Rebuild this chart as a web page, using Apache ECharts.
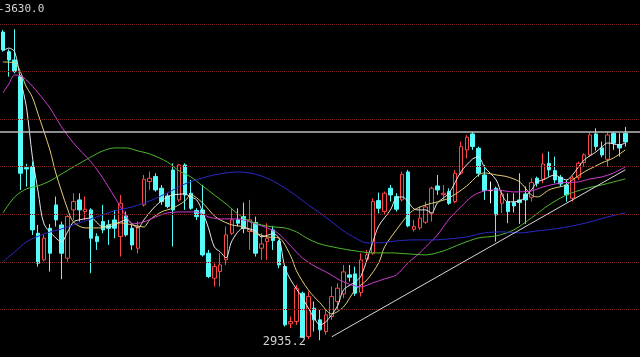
<!DOCTYPE html>
<html><head><meta charset="utf-8">
<script src="https://cdn.jsdelivr.net/npm/echarts@6/dist/echarts.min.js"></script>
<style>html,body{margin:0;padding:0;background:#000}#c{width:640px;height:357px}</style>
</head><body><div id="c"></div>
<script>
// ---- data ----
const categories = Array.from({length: 109}, (_, i) => 'K' + (i + 1));
// [open, close, lowest, highest]
const candles = [
[3582.8,3545.0,3541.5,3587.0],[3541.5,3524,3489,3546.4],[3524,3499.5,3496,3588.4],[3489,3286,3251,3492.5],
[3297.9,3295.1,3258,3305.6],[3300,3167,3156.5,3310.5],[3160,3097,3090,3177.5],[3104,3149.5,3100.5,3156.5],
[3170.5,3118,3079.5,3179.6],[3219.5,3188,3174,3237],[3177.5,3118,3063.4,3184.5],[3107.5,3195,3100.5,3198.5],
[3209,3226.5,3188,3244],[3230,3209,3184.5,3244],[3205.5,3210.4,3188,3237],[3209,3149.5,3076,3212.5],
[3153,3142.5,3125,3160],[3184.5,3167,3160,3219.5],[3177.5,3170.5,3135.5,3188],[3188,3170.5,3149.5,3209],
[3153,3223,3111,3240.5],[3196.4,3156.5,3153,3205.5],[3170.5,3135.5,3125,3181],[3128.5,3174,3118,3184.5],
[3219.5,3273.4,3216,3282.5],[3268.5,3275.5,3251,3289.5],[3279,3251,3247.5,3286],[3254.5,3226.5,3219.5,3261.5],
[3238.4,3216,3212.5,3244],[3293,3209,3132,3307],[3230,3303.5,3226.5,3305.6],[3303.5,3240.5,3209,3307],
[3244,3212.5,3209,3272],[3207.6,3195,3188,3212.5],[3209,3114.5,3111,3261.5],[3118,3069,3065.5,3125],
[3065.5,3090,3048,3097],[3079.5,3093.5,3048,3118],[3104,3156.5,3093.5,3174],[3160,3188,3156.5,3212.5],
[3188,3181,3174,3212.5],[3195,3170.5,3160,3224.4],[3163.5,3188,3125,3230],[3182.4,3118,3111,3195],
[3128.5,3137.6,3104,3160],[3142.5,3149.5,3104,3181],[3167,3144.6,3125,3175.4],[3142.5,3093.5,3086.5,3146],
[3090,2967.5,2964,3093.5],[2969.6,2974.5,2960.5,2985],[2974.5,3044.5,2967.5,3051.5],[3034,2941.6,2939.5,3037.5],
[2943,3027,2937.4,3037.5],[3002.5,2978,2953.5,3016.5],[2978,2957,2935.2,2999],[2953.5,2988.5,2946.5,2999],
[2985,3027,2978,3048],[3016.5,3044.5,2999,3055],[3032.6,3078.8,3023.5,3093.5],[3072.5,3067.6,3058.5,3093.5],
[3074.6,3034,3028.4,3090],[3035.4,3104,3027,3118],[3105.4,3114.5,3097,3125],[3118,3226.5,3114.5,3233.5],
[3228.6,3212.5,3202,3245.4],[3205.5,3244,3198.5,3247.5],[3254.5,3240.5,3226.5,3261.5],[3237,3210.4,3205.5,3244],
[3230,3283.9,3226.5,3289.5],[3288.8,3175.4,3172.6,3293],[3168.4,3174,3163.5,3188],[3171.2,3191.5,3167,3216],
[3183.1,3215.3,3179.6,3226.5],[3202,3254.5,3184.5,3258],[3259.4,3251,3240.5,3282.5],[3241.2,3244,3230,3261.5],
[3247.5,3223,3219.5,3254.5],[3226.5,3286,3223,3293],[3286,3342,3282.5,3352.5],[3335,3361.6,3317.5,3366.5],
[3368.6,3342,3335,3372.8],[3338.5,3286,3279,3342],[3282.5,3249.6,3230,3303.5],[3249.6,3249.6,3223,3268.5],
[3254.5,3198.5,3142.5,3258],[3223,3242.6,3202,3251],[3226.5,3205.5,3181,3244],[3224.4,3217.4,3203.4,3244],
[3230,3224.4,3179.6,3286],[3242.6,3230,3179.6,3258],[3235.6,3266.4,3226.5,3275.5],[3275.5,3265,3258,3279],
[3273.4,3305.6,3265,3328],[3307,3293,3279,3331.5],[3291.6,3272,3265,3321],[3277.6,3263.6,3258,3282.5],
[3261.5,3240.5,3226.5,3272],[3233.5,3275.5,3226.5,3280.4],[3277.6,3307,3272,3310.5],[3308.4,3324.5,3300,3328],
[3324.5,3366.5,3321,3371.4],[3368.6,3342,3333.6,3380.5],[3339.2,3324.5,3319.6,3352.5],[3315.4,3366.5,3300,3373.5],
[3370,3349,3335,3373.5],[3346.2,3339.2,3321,3370],[3370,3351.8,3342,3383.3]
];
// moving averages read at sample candles: [candle index, value]
const ma5 = [[0,3543],[1,3549],[2,3541],[3,3482],[4,3425],[5,3322],[6,3247],[7,3179.6],[9,3150],[10,3141.8],[11,3162.8],[12,3183.8],[13,3188],[15,3192],[17,3173.3],[18,3173.3],[20,3183.8],[21,3188],[23,3171.2],[24,3188],[26,3217.4],[28,3236.3],[29,3240.5],[31,3242.6],[32,3236.3],[33,3230],[34,3204.8],[35,3171.2],[36,3131.3],[37,3120.8],[38,3108.2],[39,3143.9],[41,3171.2],[43,3164.9],[44,3152.3],[46,3158.6],[47,3150.2],[48,3089.3],[49,3062],[51,3024.2],[53,2982.2],[54,2967.5],[55,2973.8],[57,3007.4],[58,3041],[60,3057.8],[61,3070.4],[63,3141.8],[64,3175.4],[66,3209],[67,3234.2],[68,3236.3],[70,3211.1],[71,3209],[72,3209],[73,3202.7],[74,3223.7],[76,3244.7],[78,3288.8],[80,3316.1],[81,3320.3],[82,3299.3],[84,3272],[85,3240.5],[86,3225.8],[88,3227.9],[90,3251],[91,3267.8],[92,3272],[94,3282.5],[95,3276.2],[96,3272],[97,3282.5],[99,3314],[101,3330.8],[102,3341.3],[103,3349.7],[105,3345.5],[106,3349.7]];
const ma10 = [[0,3519.8],[2,3517.7],[4,3467.3],[5,3446],[6,3410],[8,3335],[9,3286.7],[11,3211.1],[12,3183.8],[14,3171.2],[17,3171.2],[18,3177.5],[20,3181.7],[22,3177.5],[24,3173.3],[25,3188],[27,3204.8],[29,3213.2],[31,3227.9],[32,3240.5],[34,3223.7],[36,3196.4],[37,3188],[39,3177.5],[41,3173.3],[43,3160.7],[45,3152.3],[47,3150.2],[49,3112.4],[50,3080.9],[52,3041],[54,3013.7],[56,2990.6],[58,3005.3],[60,3041],[62,3062],[64,3097.7],[65,3131.3],[67,3167],[69,3198.5],[70,3209],[72,3219.5],[74,3225.8],[76,3234.2],[79,3259.4],[81,3282.5],[82,3286.7],[84,3282.5],[86,3278.3],[88,3267.8],[90,3240.5],[91,3236.3],[93,3251],[94,3255.2],[96,3261.5],[97,3272],[99,3288.8],[101,3301.4],[102,3307.7],[104,3318.2],[106,3335]];
const ma20 = [[0,3454.7],[1,3473.6],[2,3492.5],[3,3490.4],[4,3482],[6,3454.7],[8,3423.2],[10,3383.3],[12,3349.7],[15,3309.8],[17,3276.2],[19,3236.3],[21,3196.4],[22,3179.6],[24,3183.8],[26,3194.3],[28,3202.7],[31,3204.8],[33,3204.8],[35,3194.3],[37,3190.1],[40,3190.1],[42,3183.8],[45,3171.2],[47,3158.6],[49,3133.4],[51,3108.2],[53,3091.4],[55,3078.8],[58,3057.8],[61,3047.3],[63,3055.7],[65,3064.1],[67,3072.5],[69,3097.7],[71,3118.7],[72,3131.3],[74,3156.5],[76,3190.1],[78,3215.3],[80,3238.4],[82,3248.9],[84,3251],[87,3246.8],[90,3248.9],[92,3257.3],[95,3265.7],[98,3267.8],[100,3274.1],[102,3278.3],[104,3286.7],[106,3299.3]];
const ma60 = [[0,3202.7],[2,3236.3],[4,3253.1],[6,3259.4],[8,3269.9],[10,3284.6],[12,3299.3],[15,3320.3],[17,3332.9],[19,3339.2],[21,3339.2],[23,3332.9],[25,3326.6],[28,3309.8],[30,3290.9],[32,3278.3],[34,3259.4],[36,3240.5],[38,3221.6],[40,3200.6],[42,3185.9],[44,3177.5],[46,3173.3],[48,3171.2],[50,3162.8],[52,3148.1],[54,3137.6],[57,3129.2],[60,3122.9],[63,3118.7],[66,3118.7],[69,3116.6],[72,3114.5],[75,3122.9],[78,3137.6],[81,3150.2],[84,3154.4],[87,3167],[90,3192.2],[93,3219.5],[96,3240.5],[99,3253.1],[102,3261.5],[104,3267.8],[106,3274.1]];
const ma120 = [[0,3099.8],[2,3120.8],[4,3141.8],[7,3158.6],[10,3169.1],[13,3181.7],[16,3194.3],[19,3206.9],[22,3215.3],[25,3227.9],[28,3244.7],[31,3263.6],[34,3276.2],[36,3282.5],[38,3286.7],[40,3288.8],[42,3286.7],[44,3280.4],[46,3269.9],[48,3255.2],[50,3238.4],[52,3219.5],[54,3202.7],[56,3183.8],[58,3164.9],[60,3150.2],[62,3139.7],[64,3139.7],[67,3143.9],[70,3146],[73,3146],[76,3148.1],[79,3152.3],[82,3160.7],[85,3162.8],[88,3160.7],[91,3164.9],[94,3169.1],[97,3175.4],[100,3183.8],[103,3194.3],[106,3202.7]];
const gridLevels = [3000, 3100, 3200, 3300, 3400, 3500, 3600];
const refLevel = 3373;
const topLabelValue = 3630.0;
const trendStart = [56, 2942.4];
const trendEnd = [106, 3293.3];

const chart = echarts.init(document.getElementById('c'), null, {renderer: 'canvas'});
const maLine = (name, data, color) => ({
  name, type: 'line', data, showSymbol: false, symbol: 'none', smooth: 0.3,
  lineStyle: {width: 1, color}, z: 3, silent: true
});
chart.setOption({
  animation: false,
  backgroundColor: '#000',
  grid: {left: 0, right: 0, top: 0, bottom: 0},
  xAxis: {type: 'category', data: categories, boundaryGap: true, show: false},
  yAxis: {
    type: 'value', min: 2900, max: 3650, interval: 100,
    axisLabel: {show: false}, axisLine: {show: false}, axisTick: {show: false},
    splitLine: {show: false}
  },
  series: [
    {
      type: 'candlestick', data: candles, barWidth: 4,
      itemStyle: {color: '#000', color0: '#54fcfc', borderColor: '#ff4646', borderColor0: '#54fcfc', borderColorDoji: '#ffffff', borderWidth: 1},
      markLine: {
        silent: true, symbol: 'none', label: {show: false}, animation: false,
        data: gridLevels.map(v => ({yAxis: v, lineStyle: {color: '#742222', type: 'dotted', width: 1}}))
          .concat([
            {yAxis: refLevel, lineStyle: {color: '#bcbcbc', type: 'solid', width: 1.5}},
            [{coord: [categories[trendStart[0]], trendStart[1]], lineStyle: {color: '#d8d8d8', type: 'solid', width: 1}},
             {coord: [categories[trendEnd[0]], trendEnd[1]]}]
          ])
      },
      markPoint: {
        symbol: 'circle', symbolSize: 0, silent: true,
        data: [{type: 'min', valueDim: 'lowest'}],
        label: {show: true, position: 'left', distance: 14, offset: [0, 2], color: '#d4d4d4',
          fontFamily: 'DejaVu Sans Mono', fontSize: 12, formatter: p => Number(p.value).toFixed(1)}
      }
    },
    maLine('MA5', ma5, '#e8e8e8'),
    maLine('MA10', ma10, '#e2cf78'),
    maLine('MA20', ma20, '#d23cd2'),
    maLine('MA60', ma60, '#50b830'),
    maLine('MA120', ma120, '#2a2ac8')
  ]
});
const yTop = chart.convertToPixel({yAxisIndex: 0}, topLabelValue);
chart.setOption({graphic: [{type: 'text', x: -2, y: yTop, style: {text: '-' + topLabelValue.toFixed(1), fill: '#d4d4d4', font: '11px "DejaVu Sans Mono"', textVerticalAlign: 'middle'}}]});
</script></body></html>
